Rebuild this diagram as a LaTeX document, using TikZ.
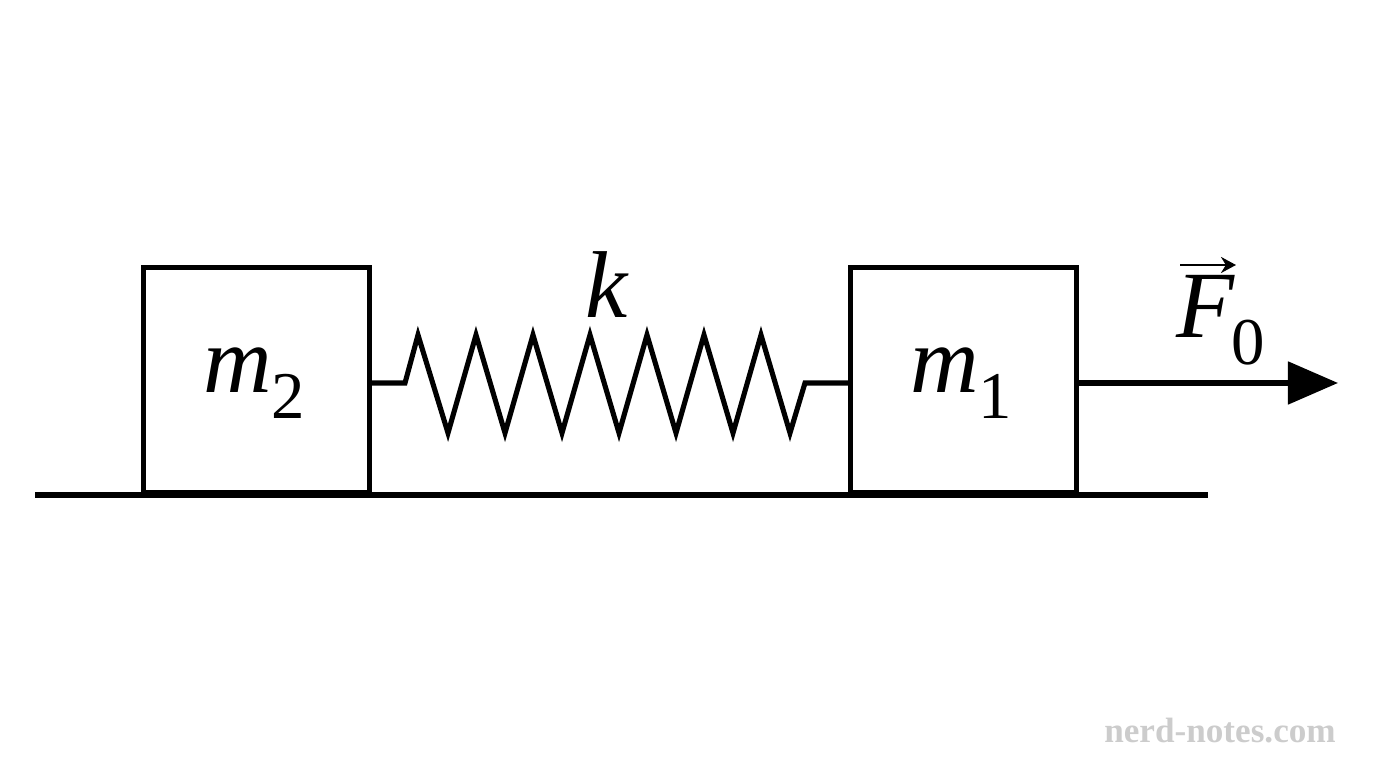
\documentclass[tikz,border=0pt]{standalone}
\usepackage{fontspec}
\setmainfont{Liberation Serif}
\usetikzlibrary{arrows.meta}
\newcommand{\sbx}[1]{\raisebox{-0.28em}{\fontsize{19}{20}\selectfont #1}}
\begin{document}
\begin{tikzpicture}[x=0.01cm,y=-0.01cm,line width=1.45pt,
  lbl/.style={font=\fontsize{27}{30}\selectfont},
  box/.style={draw,minimum width=2.26cm,minimum height=2.25cm,inner sep=0pt}]
\useasboundingbox (0,0) rectangle (1376,768);
\draw (35,495) -- (1208,495);
\node[box,anchor=south west] (m2) at (141,495) {};
\node[box,anchor=south west] (m1) at (848,495) {};
\node[lbl] at (254,383) {\textit{m}\sbx{2}};
\node[lbl] at (961,383) {\textit{m}\sbx{1}};
\coordinate (s0) at (m2.east |- 0,383);
\coordinate (s1) at (m1.west |- 0,383);
\draw[line join=miter] (s0) -- (405,383) -- (418,335) -- (448,433) -- (476,335) -- (505,433) -- (533,335) -- (562,433) -- (590,335) -- (619,433) -- (647,335) -- (676,433) -- (704,335) -- (733,433) -- (761,335) -- (790,433) -- (805,383) -- (s1);
\node[lbl] (k) at (607,285) {\textit{k}};
\coordinate (f) at (1338,383);
\draw[-{Triangle[length=0.5cm,width=0.42cm]}] (m1.east |- 0,383) -- (f);
\node[lbl,anchor=base west,inner sep=0pt] (F) at (1174,338) {\textit{F}\kern-1pt\sbx{0}};
\coordinate (a0) at (1180,265);
\coordinate (a1) at (1236,265);
\draw[line width=0.8pt,-{Stealth[length=0.15cm,width=0.16cm]}] (a0) -- (a1);
\node[text=gray!40,font=\bfseries\fontsize{10}{12}\selectfont,anchor=east] at (1350,731) {nerd-notes.com};
\end{tikzpicture}
\end{document}
